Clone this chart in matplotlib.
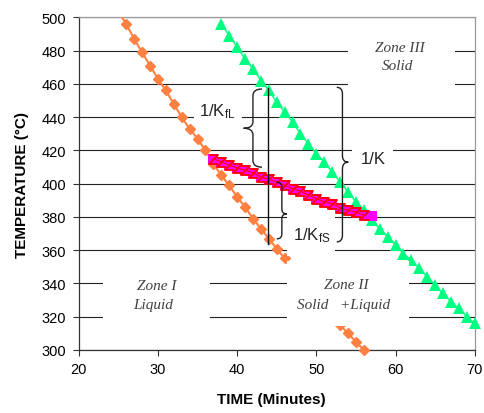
#!/usr/bin/env python3
"""Cooling curves with zone annotations (liquid / solid+liquid / solid)."""

import matplotlib
matplotlib.use("Agg")
import matplotlib.pyplot as plt
from matplotlib.patches import Rectangle, PathPatch
from matplotlib.path import Path

# --- data --------------------------------------------------------------
liquid_time = [26, 27, 28, 29, 30, 31, 32, 33, 34, 35, 36, 37, 38, 39, 40, 41,
               42, 43, 44, 45, 46, 47, 48, 49, 50, 51, 52, 53, 54, 55, 56]
liquid_temp = [496, 487, 479, 471, 463, 456, 448, 440, 433, 427, 420, 412, 405,
               399, 392, 386, 379, 373, 367, 361, 355, 349, 343, 338, 332, 326,
               320, 315, 310, 305, 300]

solid_time = [38, 39, 40, 41, 42, 43, 44, 45, 46, 47, 48, 49, 50, 51, 52, 53,
              54, 55, 56, 57, 58, 59, 60, 61, 62, 63, 64, 65, 66, 67, 68, 69, 70]
solid_temp = [496, 489, 482, 475, 469, 462, 456, 449, 443, 437, 430, 424, 418,
              413, 407, 401, 395, 389, 384, 378, 373, 368, 363, 358, 354, 349,
              344, 339, 334, 329, 325, 320, 316]

mix_time = [37, 38, 39, 40, 41, 42, 43, 44, 45, 46, 47, 48, 49, 50, 51, 52,
            53, 54, 55, 56, 57]
mix_temp = [415, 413, 411, 409.5, 408, 406.5, 404, 402.5, 401, 399, 397, 395.5,
            393, 391, 389, 388, 385.5, 384, 383, 381, 380.5]
mix2_time = mix_time[:-1]
mix2_temp = mix_temp[:-1]

x_ticks = [20, 30, 40, 50, 60, 70]
y_ticks = list(range(300, 501, 20))

plt.rcParams["font.family"] = ["Liberation Sans", "DejaVu Sans"]


def brace(ax, x_spine, x_end, x_tip, y_top, y_bot, y_tip, r):
    """Curly brace drawn in data coordinates."""
    verts = [
        (x_end, y_top), (x_spine, y_top), (x_spine, y_top - r),
        (x_spine, y_tip + r),
        (x_spine, y_tip), (x_tip, y_tip),
        (x_spine, y_tip), (x_spine, y_tip - r),
        (x_spine, y_bot + r),
        (x_spine, y_bot), (x_end, y_bot),
    ]
    codes = [Path.MOVETO, Path.CURVE3, Path.CURVE3, Path.LINETO,
             Path.CURVE3, Path.CURVE3, Path.CURVE3, Path.CURVE3,
             Path.LINETO, Path.CURVE3, Path.CURVE3]
    ax.add_patch(PathPatch(Path(verts, codes), fill=False, lw=1.0,
                           edgecolor="#222222", zorder=7))


fig = plt.figure(figsize=(4.84, 4.14), dpi=100)
ax = fig.add_axes([0.1626, 0.1522, 0.8182, 0.8036])

ax.set_xlim(20, 70)
ax.set_ylim(300, 500)
ax.set_xticks(x_ticks)
ax.set_yticks(y_ticks)
ax.tick_params(axis="both", direction="out", length=4, width=0.8,
               labelsize=10.5, color="#333333")
ax.tick_params(axis="y", pad=5)
ax.tick_params(axis="x", pad=5)
ax.yaxis.grid(True, color="#222222", lw=0.8)
ax.set_axisbelow(True)

for side in ("left", "bottom"):
    ax.spines[side].set_color("#333333")
    ax.spines[side].set_linewidth(0.9)
for side in ("top", "right"):
    ax.spines[side].set_color("#999999")
    ax.spines[side].set_linewidth(0.9)

hourglass = Path([(-1, 1), (1, 1), (-1, -1), (1, -1)],
                 [Path.MOVETO, Path.LINETO, Path.LINETO, Path.LINETO])

# the liquid line runs on up to the top edge before its first marker
ax.plot([25.0, liquid_time[0]], [503.5, liquid_temp[0]], color="#FF8040",
        lw=1.5, zorder=3)
ax.plot(liquid_time, liquid_temp, color="#FF8040", lw=1.5, marker="D",
        markersize=5.5, zorder=3, clip_on=False)
ax.plot(solid_time, solid_temp, color="#00FF80", lw=1.0, marker="^",
        markersize=8, markeredgewidth=0, zorder=3, clip_on=False)
ax.plot(mix_time, mix_temp, color="#FF00FF", lw=1.0, marker="s",
        markersize=6.5, markeredgewidth=0, zorder=3)
ax.plot(mix2_time, mix2_temp, color="#FF0000", lw=0.8, marker=hourglass,
        markersize=6.5, markerfacecolor="none", markeredgecolor="#FF0000",
        markeredgewidth=1.3, zorder=4)

# white text boxes that break the grid lines
boxes = [
    (54.0, 455.5, 13.5, 35.0),   # Zone III
    (23.1, 313.8, 13.5, 34.8),   # Zone I
    (46.3, 314.5, 15.4, 39.1),   # Zone II
    (34.5, 434.0, 6.1, 17.0),    # 1/KfL
    (54.5, 404.0, 5.2, 23.0),    # 1/K
    (46.3, 356.6, 6.1, 26.4),    # 1/KfS
]
for bx, by, bw, bh in boxes:
    ax.add_patch(Rectangle((bx, by), bw, bh, facecolor="white",
                           edgecolor="none", zorder=5))

zone_kw = dict(family=["Liberation Serif", "DejaVu Serif"], style="italic",
               fontsize=11, color="#404040", ha="center", va="center",
               zorder=6)
ax.text(60.6, 482.0, "Zone III", **zone_kw)
ax.text(60.3, 471.0, "Solid", **zone_kw)
ax.text(29.85, 338.7, "Zone I", **zone_kw)
ax.text(29.4, 327.1, "Liquid", **zone_kw)
ax.text(53.8, 339.1, "Zone II", **zone_kw)
ax.text(53.5, 327.1, "Solid   +Liquid", **zone_kw)

k_kw = dict(fontsize=12, color="#222222", ha="center", va="center", zorder=6)
ax.text(37.5, 443.6, r"$\mathregular{1/K_{fL}}$", **k_kw)
ax.text(57.2, 415.3, "1/K", **k_kw)
ax.text(49.4, 369.4, r"$\mathregular{1/K_{fS}}$", **k_kw)

# vertical marker line and braces
ax.plot([43.84, 43.84], [457.5, 364.0], color="#111111", lw=1.0, zorder=7)
brace(ax, 42.0, 43.15, 40.82, 456.9, 409.9, 433.3, 4.0)
brace(ax, 53.3, 52.58, 54.04, 457.9, 365.0, 412.9, 4.0)
brace(ax, 45.65, 45.0, 46.26, 400.8, 366.8, 381.8, 3.0)

ax.set_xlabel("TIME (Minutes)", fontsize=11, fontweight="bold")
ax.set_ylabel("TEMPERATURE (\u00b0C)", fontsize=11, fontweight="bold")
ax.xaxis.set_label_coords(0.4856, -0.126)
ax.yaxis.set_label_coords(-0.125, 0.5)

fig.savefig("out.png", dpi=100)
